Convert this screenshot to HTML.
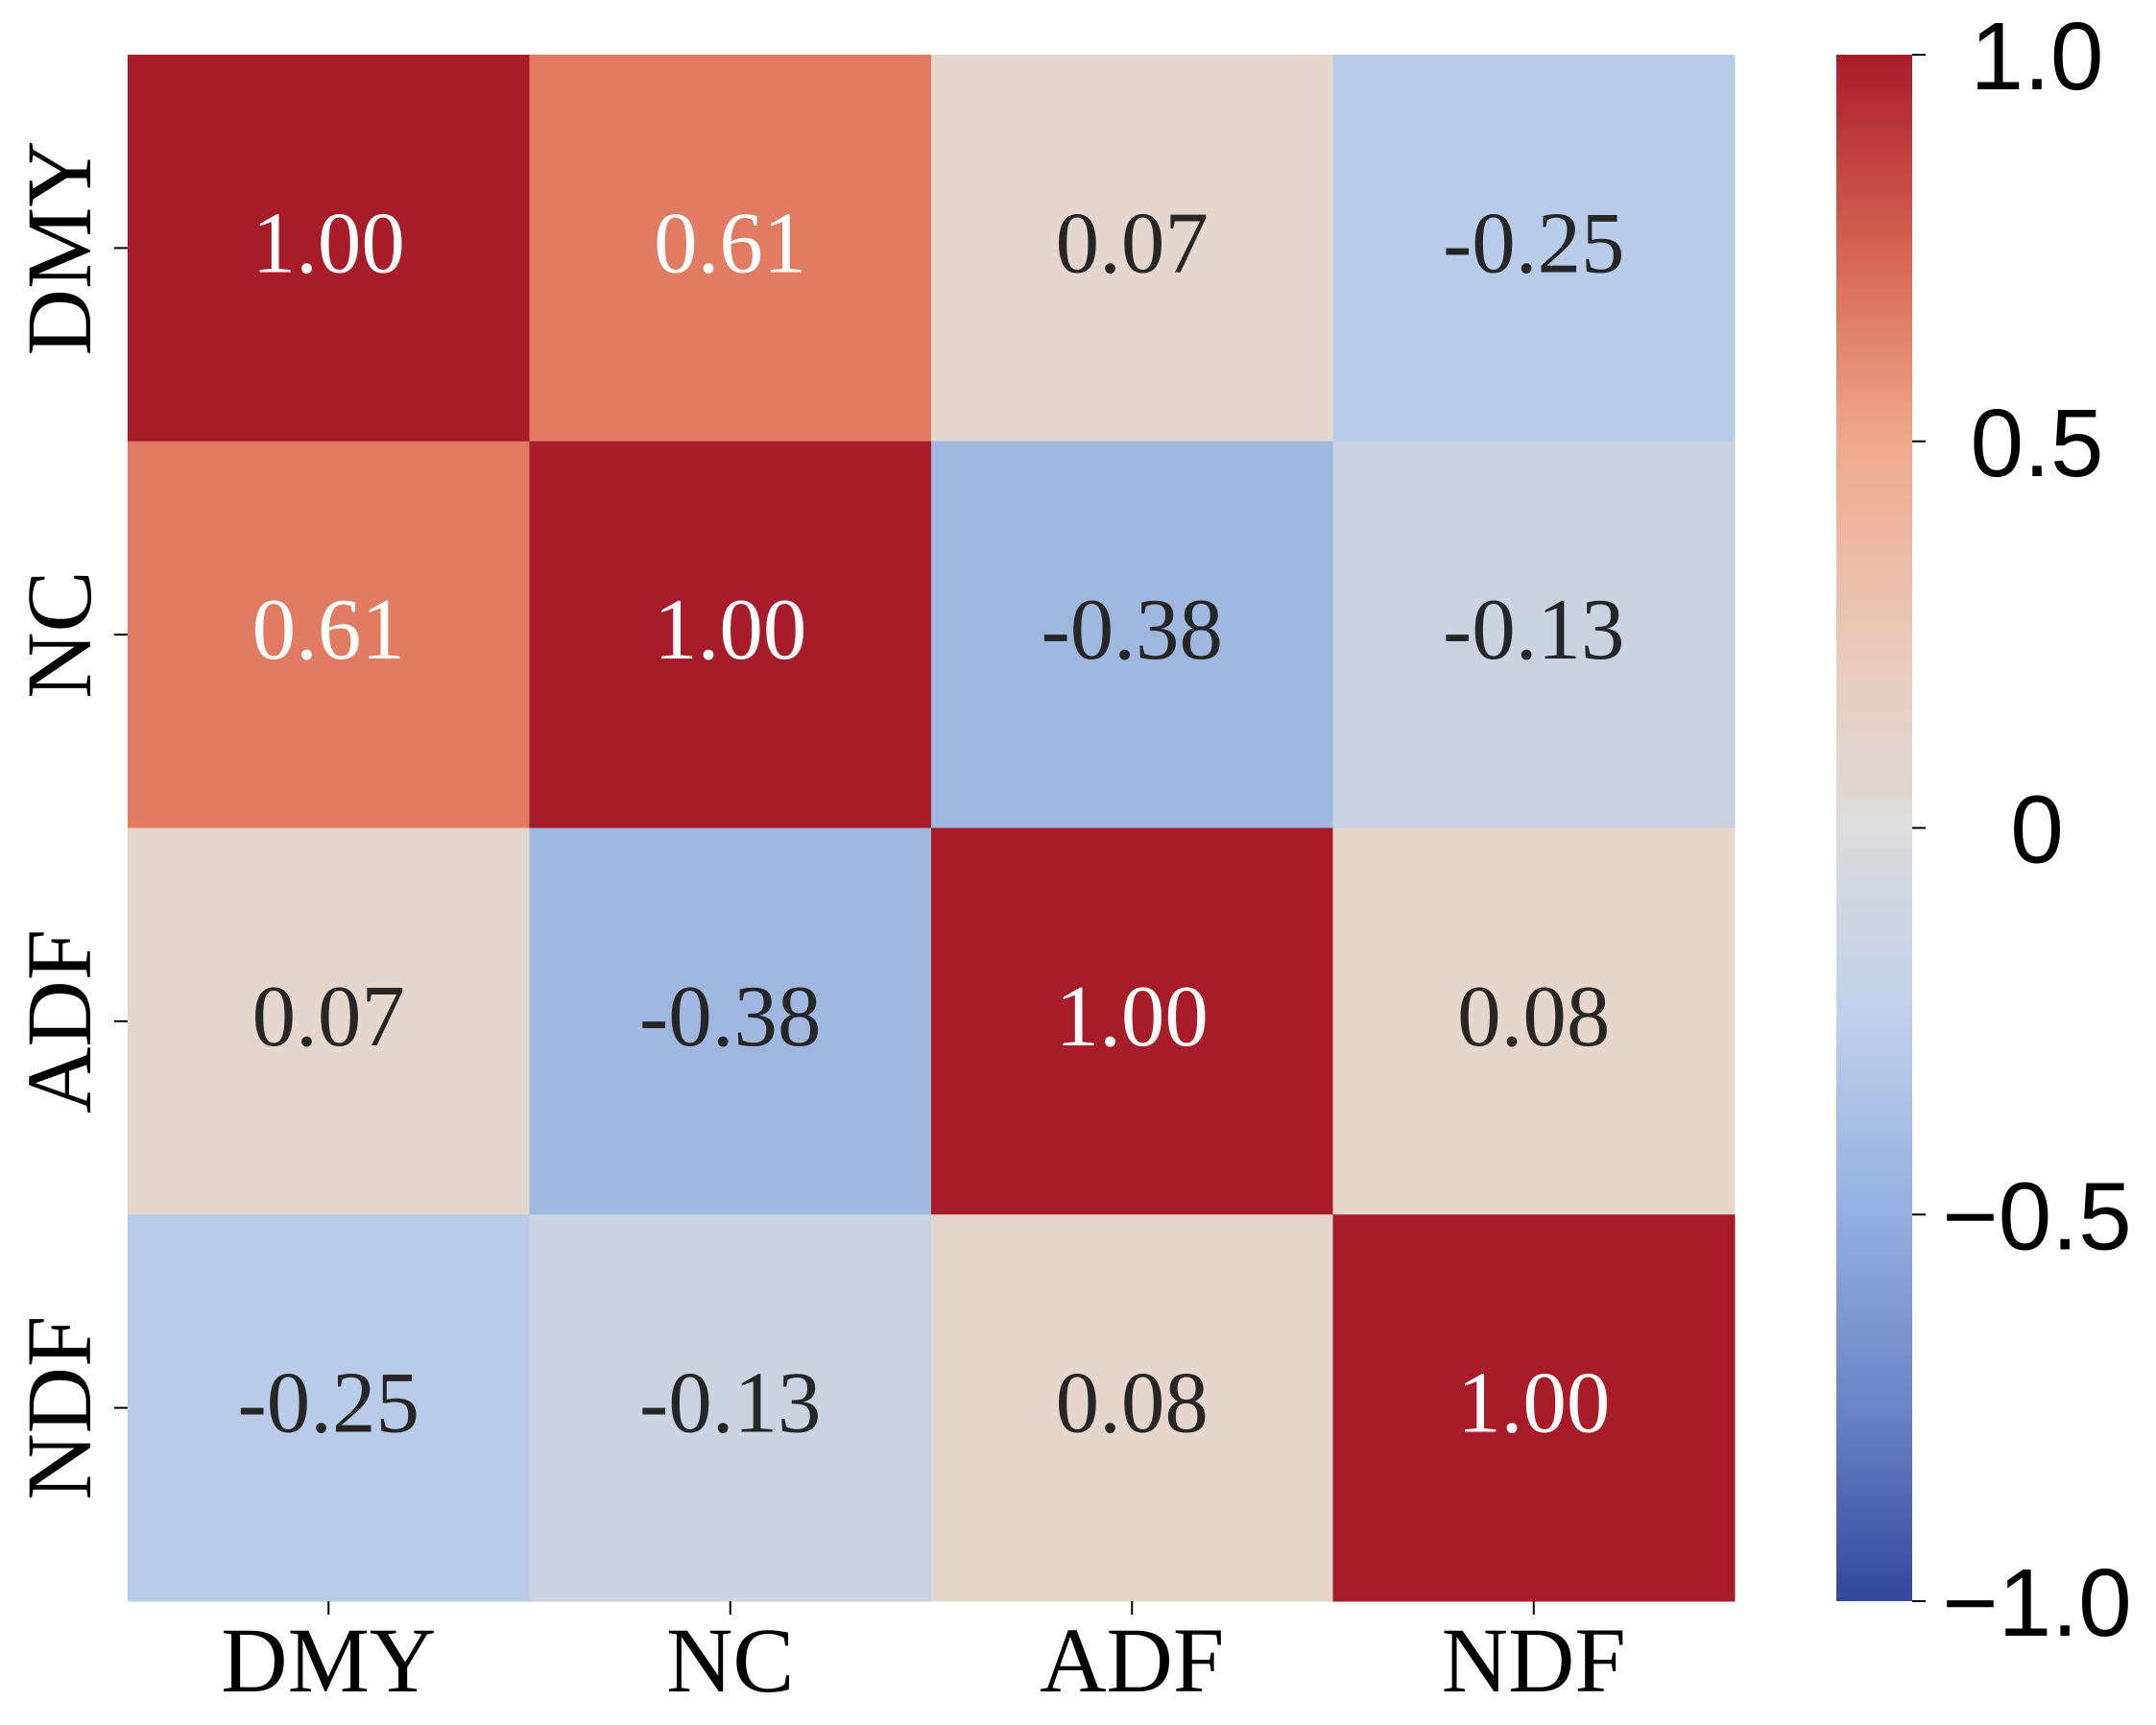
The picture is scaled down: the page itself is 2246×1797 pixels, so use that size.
<!DOCTYPE html>
<html><head><meta charset="utf-8"><style>html,body{margin:0;padding:0;background:#fff}svg{display:block}</style></head>
<body>
<svg id="chart" width="2246" height="1797" viewBox="0 0 2246 1797" xmlns="http://www.w3.org/2000/svg">
<defs>
<linearGradient id="cbgrad" x1="0" y1="0" x2="0" y2="1">
<stop offset="0" stop-color="#a81c2a"/>
<stop offset="0.12" stop-color="#d4604f"/>
<stop offset="0.25" stop-color="#f0a98b"/>
<stop offset="0.4" stop-color="#e8cdbf"/>
<stop offset="0.5" stop-color="#dddcdc"/>
<stop offset="0.62" stop-color="#c0d0ea"/>
<stop offset="0.75" stop-color="#93afe0"/>
<stop offset="0.88" stop-color="#6782c4"/>
<stop offset="1" stop-color="#33479b"/>
</linearGradient>
</defs>
<g id="cells"></g>
<g id="labels"></g>
<rect x="1913" y="57" width="79" height="1611" fill="url(#cbgrad)"/>
<g id="cbticks"></g>
</svg>
<script>
const categories = ["DMY","NC","ADF","NDF"];
const row0 = [1.00, 0.61, 0.07, -0.25];
const row1 = [0.61, 1.00, -0.38, -0.13];
const row2 = [0.07, -0.38, 1.00, 0.08];
const row3 = [-0.25, -0.13, 0.08, 1.00];
const matrix = [row0,row1,row2,row3];
const cbTickValues = [1.0, 0.5, 0, -0.5, -1.0];
const cbTickLabels = ["1.0","0.5","0","\u22120.5","\u22121.0"];

const NS="http://www.w3.org/2000/svg";
const X0=133,Y0=57,W=1674,H=1611;
const cw=W/categories.length, ch=H/categories.length;
const xPos=i=>X0+i*cw, yPos=i=>Y0+i*ch;
const cbY=v=>Y0+(1-v)/2*H;
const stops=[[-1,[51,71,155]],[-0.5,[137,166,216]],[-0.25,[184,203,232]],[0,[221,220,220]],[0.08,[230,214,203]],[0.3,[236,180,156]],[0.61,[225,123,98]],[1,[168,28,42]]];
function color(v){
  for(let i=0;i<stops.length-1;i++){const a=stops[i],b=stops[i+1];
    if(v<=b[0]){const t=(v-a[0])/(b[0]-a[0]);const c=a[1].map((x,k)=>Math.round(x+(b[1][k]-x)*t));return `rgb(${c})`;}}
  return `rgb(${stops[stops.length-1][1]})`;
}
function mk(tag,attrs,parent){const e=document.createElementNS(NS,tag);for(const k in attrs)e.setAttribute(k,attrs[k]);parent.appendChild(e);return e;}
const gc=document.getElementById('cells'), gl=document.getElementById('labels'), gt=document.getElementById('cbticks');
const serif='"Liberation Serif", serif';
matrix.forEach((row,r)=>row.forEach((v,c)=>{
  const rect=mk('rect',{x:xPos(c),y:yPos(r),width:cw+0.5,height:ch+0.5,fill:color(v)},gc);
  
  
  const t=mk('text',{x:xPos(c)+cw/2,y:yPos(r)+ch/2+25,'text-anchor':'middle','font-family':serif,'font-size':91,fill:(Math.abs(v)>0.5?'#ffffff':'#262626')},gc);
  t.textContent=v.toFixed(2);
  
  
}));
categories.forEach((name,i)=>{
  const cx=xPos(i)+cw/2, cy=yPos(i)+ch/2;
  mk('line',{x1:cx,y1:Y0+H,x2:cx,y2:Y0+H+14,stroke:'#000','stroke-width':2},gl);
  const xt=mk('text',{x:cx,y:1762,'text-anchor':'middle','font-family':serif,'font-size':96,fill:'#000'},gl);
  xt.textContent=name;
  
  
  mk('line',{x1:X0-14,y1:cy,x2:X0,y2:cy,stroke:'#000','stroke-width':2},gl);
  const yt=mk('text',{x:0,y:0,'text-anchor':'middle','font-family':serif,'font-size':96,fill:'#000',transform:`translate(94,${cy}) rotate(-90)`},gl);
  yt.textContent=name;
  
  
});
cbTickValues.forEach((v,i)=>{
  const y=cbY(v);
  mk('line',{x1:1992,y1:y,x2:2006,y2:y,stroke:'#000','stroke-width':2},gt);
  const t=mk('text',{x:2122,y:y+36,'text-anchor':'middle','font-family':'"Liberation Sans", sans-serif','font-size':100,fill:'#000'},gt);
  t.textContent=cbTickLabels[i];
  
  
});
</script>
</body></html>
